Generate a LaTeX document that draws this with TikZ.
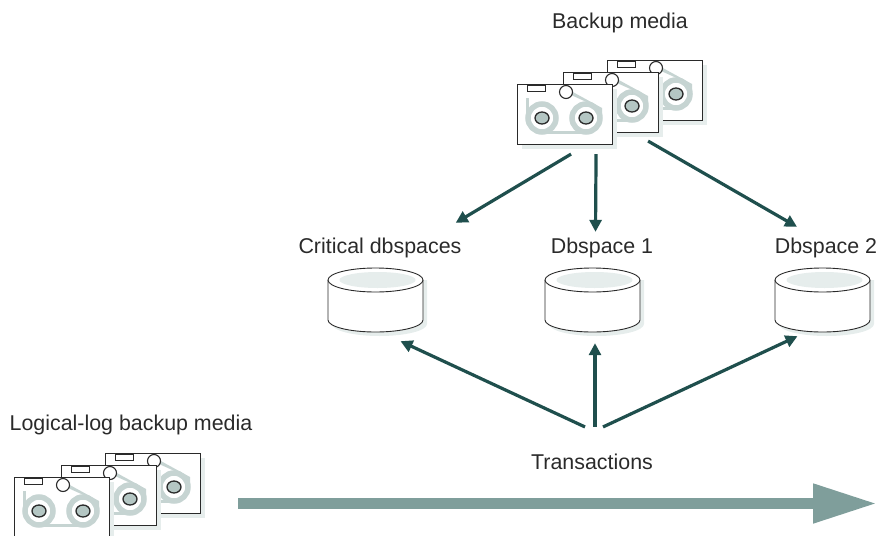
\documentclass[tikz,border=0pt]{standalone}
\usepackage{fontspec}
\setmainfont{Liberation Sans}
\usepackage{xcolor}
\usetikzlibrary{positioning,arrows.meta,calc,shadows}
\definecolor{linkc}{HTML}{1F4F4D}
\definecolor{flowc}{HTML}{7F9E9B}
\definecolor{tapec}{HTML}{C6D4D2}
\definecolor{hubc}{HTML}{B4C6C3}
\definecolor{shadec}{HTML}{E6EDEC}
\definecolor{inkc}{HTML}{2A2A2A}
\tikzset{
  label text/.style={inner sep=0pt, text=inkc, font=\fontsize{21.4}{24}\selectfont},
  tapebox/.style={rectangle, draw=inkc, line width=1.1pt, fill=white, anchor=north west, inner sep=0pt,
    minimum width=95pt, minimum height=60pt,
    drop shadow={shadow xshift=4pt, shadow yshift=-4pt, fill=shadec, opacity=1}},
  diskbox/.style={rectangle, inner sep=0pt, minimum width=95pt, minimum height=64pt},
  link/.style={draw=linkc, line width=3.2pt, -{Triangle[length=12pt,width=12pt]}},
  flow/.style={draw=flowc, line width=11pt, -{Triangle[length=64pt,width=37pt]}},
  pics/tapeparts/.style={code={
    \draw[tapec, line width=5.5pt] (25,34) circle (14) (69,34) circle (14);
    \draw[tapec, line width=3pt] (25,48.5) -- (69,48.5) (10,14) -- (10,34);
    \fill[tapec] (54,7) -- (85,24) -- (85,32) -- (74,20) -- (54,11) -- cycle;
    \draw[inkc, fill=white, line width=1pt] (10,1.5) rectangle (28,7.5);
    \foreach \rx in {25,69} {
      \draw[inkc, fill=hubc, line width=1.3pt] (\rx,34) ellipse (7 and 6);
    }
    \draw[inkc, fill=white, line width=1.1pt] (49,8) circle (6.5);
  }},
  pics/diskparts/.style={code={
    \fill[shadec] (-43.5,-20) -- (51.5,-20) -- (51.5,24) arc[start angle=0, end angle=180, x radius=47.5, y radius=12] -- cycle;
    \draw[inkc, fill=white, line width=0.9pt] (-47.5,-20) -- (-47.5,20) arc[start angle=180, end angle=0, x radius=47.5, y radius=12] -- (47.5,-20);
    \draw[inkc, fill=white, line width=0.9pt] (0,-20) ellipse (47.5 and 12);
    \fill[shadec] (2,-20) ellipse (38 and 8);
  }}
}
\begin{document}
\begin{tikzpicture}[x=1pt,y=-1pt]
    \clip (0,0) rectangle (877,535);
    % upper set of tapes
    \foreach \name/\x/\y in {mediaC/607/60, mediaB/563/72, mediaA/517/84} {
        \node[tapebox] (\name) at (\x,\y) {};
        \pic at (\name.north west) {tapeparts};
    }
    % lower set of tapes
    \foreach \name/\x/\y in {logC/105/453, logB/61/465, logA/14/477} {
        \node[tapebox] (\name) at (\x,\y) {};
        \pic at (\name.north west) {tapeparts};
    }
    \node[label text] (mediaL) at (620,23) {Backup media};
    \node[label text] (logL) at (131,425) {Logical-log backup media};
    \node[label text] (critL) at (380,248) {Critical dbspaces};
    \node[label text] (oneL) at (602,248) {Dbspace 1};
    \node[label text] (twoL) at (826,248) {Dbspace 2};
    \node[label text] (transL) at (592,462) {Transactions};
    \foreach \name/\x in {diskA/375.5, diskB/592.5, diskC/822.5} {
        \node[diskbox] (\name) at (\x,300) {};
        \pic at (\name.center) {diskparts};
    }
    % restore arrows
    \draw[link] ($(mediaA.south)+(6,9)$) -- ($(critL.north east)+(-6,-15)$);
    \draw[link] ($(mediaA.south)+(31,9)$) -- ($(oneL.north)+(-6.5,-6)$);
    \draw[link] ($(mediaB.south east)+(-11,8)$) -- ($(twoL.north)+(-29,-11)$);
    % transaction arrows
    \draw[link] ($(transL.north)+(-7,-27)$) -- ($(diskA.south)+(25,9)$);
    \draw[link] ($(transL.north)+(3,-27)$) -- ($(diskB.south)+(2.5,11)$);
    \draw[link] ($(transL.north)+(11,-27)$) -- ($(diskC.south)+(-25,4)$);
    \coordinate (flowstart) at (238,503.5);
    \coordinate (flowend) at (877,503.5);
    \draw[flow] (flowstart) -- (flowend);
\end{tikzpicture}
\end{document}
